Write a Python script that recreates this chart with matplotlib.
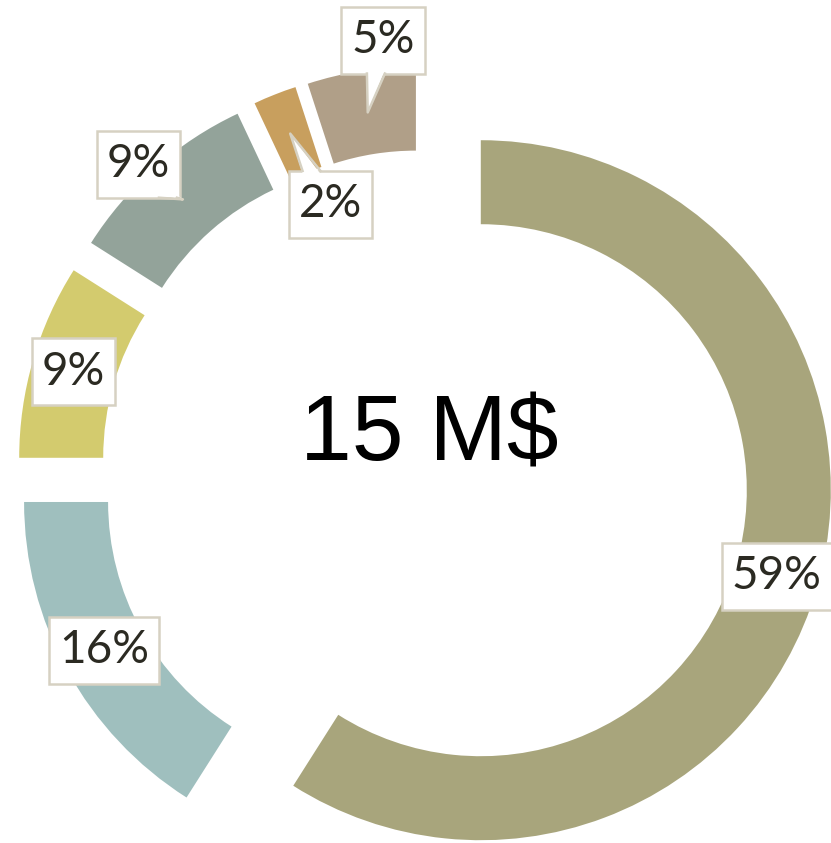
import numpy as np
import matplotlib
matplotlib.use("Agg")
import matplotlib.pyplot as plt
from matplotlib.patches import Rectangle, Polygon
from matplotlib.lines import Line2D

# data
shares = [59, 16, 9, 9, 2, 5]
labels = ["59%", "16%", "9%", "9%", "2%", "5%"]
colors = ["#a8a57c", "#9fbfbe", "#d3cb6e", "#93a39a", "#c89f5e", "#b09f88"]
total_text = "15 M$"

# label layout (radius from wedge centre, angle offset from mid angle)
label_r = [0.88, 0.88, 0.88, 1.04, 0.65, 1.08]
label_dang = [0, 0, 0, 1.6, -2.9, -4.0]

EDGE = "#d6d1c2"
TXT = "#2b2a22"

fig = plt.figure(figsize=(8.31, 8.43), dpi=100)
ax = fig.add_axes([0, 0, 1, 1])

wedges, _ = ax.pie(shares, colors=colors, explode=[0.166] * len(shares),
                   startangle=90, counterclock=False, radius=1,
                   wedgeprops=dict(width=0.24, linewidth=0))
ax.set_xlim(-425 / 350, 406 / 350)
ax.set_ylim(-369 / 350, 474 / 350)
ax.set_aspect("auto")
ax.axis("off")

ax.text(0.012, 0.108, total_text, ha="center", va="center", fontsize=67,
        family="Liberation Sans", color="black")

texts = []
tips = []
for w, lab, lr, da in zip(wedges, labels, label_r, label_dang):
    cx, cy = w.center
    mid = np.deg2rad((w.theta1 + w.theta2) / 2)
    ang = mid + np.deg2rad(da)
    t = ax.text(cx + lr * np.cos(ang), cy + lr * np.sin(ang), lab,
                ha="center", va="center", fontsize=33, family="Lato",
                color=TXT, zorder=7)
    texts.append(t)
    tips.append((cx + 0.88 * np.cos(mid), cy + 0.88 * np.sin(mid)))

fig.canvas.draw()
inv = ax.transData.inverted()
for t, tip in zip(texts, tips):
    ext = t.get_window_extent()
    xc, yc = (ext.x0 + ext.x1) / 2, (ext.y0 + ext.y1) / 2
    bw, bh = ext.width + 20, 67
    x0, x1, y0, y1 = xc - bw / 2, xc + bw / 2, yc - bh / 2, yc + bh / 2
    (dx0, dy0) = inv.transform((x0, y0))
    (dx1, dy1) = inv.transform((x1, y1))
    ax.add_patch(Rectangle((dx0, dy0), dx1 - dx0, dy1 - dy0, fc="white",
                           ec=EDGE, lw=1.8, zorder=4))
    tx, ty = ax.transData.transform(tip)
    if x0 <= tx <= x1 and y0 <= ty <= y1:
        continue
    # pointer from the nearest horizontal edge toward the tip
    ey = y0 if ty < y0 else y1
    s = (ey - yc) / (ty - yc)
    bx = np.clip(xc + (tx - xc) * s, x0 + 12, x1 - 12)
    inset = 3 if ey == y0 else -3
    p1 = (bx - 9, ey + inset)
    p2 = (bx + 9, ey + inset)
    pts = inv.transform([p1, (tx, ty), p2])
    ax.add_patch(Polygon(pts, closed=True, fc="white", ec="none", zorder=5))
    e1 = inv.transform([(bx - 9, ey), (tx, ty), (bx + 9, ey)])
    ax.add_line(Line2D(e1[:, 0], e1[:, 1], color=EDGE, lw=1.8, zorder=6))

fig.savefig("out.png", dpi=100, facecolor="white")
